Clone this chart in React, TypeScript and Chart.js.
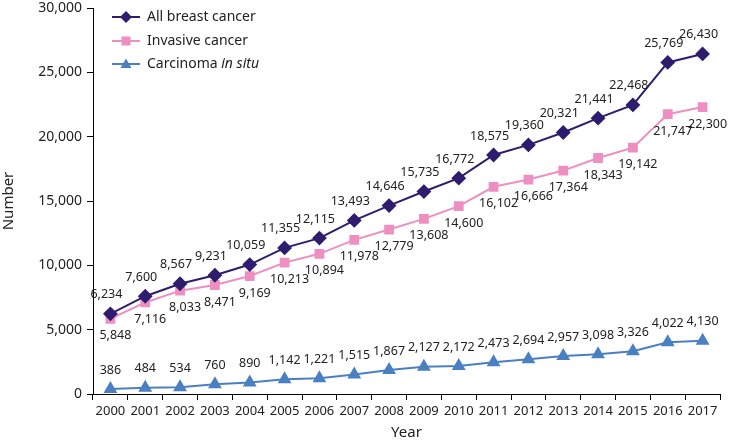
import React, { useEffect, useRef } from "react";
import { Chart, registerables } from "chart.js";

Chart.register(...registerables);

const years = ["2000","2001","2002","2003","2004","2005","2006","2007","2008","2009","2010","2011","2012","2013","2014","2015","2016","2017"];
const allBreast = [6234,7600,8567,9231,10059,11355,12115,13493,14646,15735,16772,18575,19360,20321,21441,22468,25769,26430];
const invasive = [5848,7116,8033,8471,9169,10213,10894,11978,12779,13608,14600,16102,16666,17364,18343,19142,21747,22300];
const inSitu = [386,484,534,760,890,1142,1221,1515,1867,2127,2172,2473,2694,2957,3098,3326,4022,4130];

const seriesNames = ["All breast cancer", "Invasive cancer", "Carcinoma "];
const colors = ["#2f1c6e", "#ee8fc1", "#4a80c2"];
const FONT = '"Noto Sans", sans-serif';

const fmt = (v: number) => v.toLocaleString("en-US");

const labelPlugin = {
  id: "valueLabels",
  afterDatasetsDraw(chart: any) {
    const ctx = chart.ctx;
    const offsets = [
      [-4, -19],
      [5, 17],
      [0, -19],
    ];
    ctx.save();
    ctx.font = `12.5px ${FONT}`;
    ctx.fillStyle = "#222";
    ctx.textAlign = "center";
    ctx.textBaseline = "middle";
    chart.data.datasets.forEach((ds: any, i: number) => {
      const meta = chart.getDatasetMeta(i);
      meta.data.forEach((pt: any, j: number) => {
        const [dx, dy] = offsets[i];
        ctx.fillText(fmt(ds.data[j]), pt.x + dx, pt.y + dy);
      });
    });
    ctx.restore();
  },
};

const legendPlugin = {
  id: "customLegend",
  afterDraw(chart: any) {
    const ctx = chart.ctx;
    const x0 = 112;
    const rows = [17, 41, 64];
    ctx.save();
    rows.forEach((y, i) => {
      ctx.strokeStyle = colors[i];
      ctx.fillStyle = colors[i];
      ctx.lineWidth = 2;
      ctx.beginPath();
      ctx.moveTo(x0, y);
      ctx.lineTo(x0 + 28, y);
      ctx.stroke();
      const cx = x0 + 14;
      ctx.beginPath();
      if (i === 0) {
        ctx.moveTo(cx, y - 6);
        ctx.lineTo(cx + 6, y);
        ctx.lineTo(cx, y + 6);
        ctx.lineTo(cx - 6, y);
        ctx.closePath();
      } else if (i === 1) {
        ctx.rect(cx - 4.5, y - 4.5, 9, 9);
      } else {
        ctx.moveTo(cx, y - 5.5);
        ctx.lineTo(cx + 5.5, y + 4);
        ctx.lineTo(cx - 5.5, y + 4);
        ctx.closePath();
      }
      ctx.fill();
      ctx.fillStyle = "#222";
      ctx.textAlign = "left";
      ctx.textBaseline = "middle";
      ctx.font = `14px ${FONT}`;
      ctx.fillText(seriesNames[i], x0 + 35, y);
      if (i === 2) {
        const w = ctx.measureText(seriesNames[i]).width;
        ctx.font = `italic 14px ${FONT}`;
        ctx.fillText("in situ", x0 + 35 + w, y);
      }
    });
    ctx.restore();
  },
};

export default function App() {
  const ref = useRef<HTMLCanvasElement>(null);
  useEffect(() => {
    document.body.style.margin = "0";
    const chart = new Chart(ref.current as HTMLCanvasElement, {
      type: "line",
      data: {
        labels: years,
        datasets: [
          {
            label: "All breast cancer",
            data: allBreast,
            borderColor: colors[0],
            backgroundColor: colors[0],
            borderWidth: 2,
            pointStyle: "rectRot",
            pointRadius: 6,
            tension: 0,
          },
          {
            label: "Invasive cancer",
            data: invasive,
            borderColor: colors[1],
            backgroundColor: colors[1],
            borderWidth: 2,
            pointStyle: "rect",
            pointRadius: 5.5,
            tension: 0,
          },
          {
            label: "Carcinoma in situ",
            data: inSitu,
            borderColor: colors[2],
            backgroundColor: colors[2],
            borderWidth: 2,
            pointStyle: "triangle",
            pointRadius: 6,
            tension: 0,
          },
        ],
      },
      options: {
        responsive: false,
        animation: false,
        layout: { padding: { top: 8, right: 18, left: 0, bottom: 0 } },
        plugins: { legend: { display: false }, tooltip: { enabled: false } },
        scales: {
          x: {
            type: "category",
            offset: true,
            grid: { display: true, drawOnChartArea: false, drawTicks: true, tickLength: 6, color: "#000", offset: true },
            border: { display: true, color: "#000", width: 1 },
            ticks: { color: "#222", font: { family: FONT, size: 13 }, padding: 3, maxRotation: 0, autoSkip: false },
            title: { display: true, text: "Year", color: "#222", font: { family: FONT, size: 15 }, padding: { top: 4, bottom: 0 } },
            afterFit: (s: any) => { s.height = 48; s.paddingLeft = 0; s.paddingRight = 0; },
          },
          y: {
            min: 0,
            max: 30000,
            grid: { display: true, drawOnChartArea: false, drawTicks: true, tickLength: 6, color: "#000" },
            border: { display: true, color: "#000", width: 1 },
            ticks: { stepSize: 5000, color: "#222", font: { family: FONT, size: 14 }, padding: 5, callback: (v: any) => fmt(Number(v)) },
            title: { display: true, text: "Number", color: "#222", font: { family: FONT, size: 15 }, padding: { top: 0, bottom: 0 } },
            afterFit: (s: any) => { s.width = 93; s.paddingTop = 0; s.paddingBottom = 0; },
          },
        },
      },
      plugins: [labelPlugin, legendPlugin],
    });
    return () => chart.destroy();
  }, []);
  return <canvas ref={ref} width={738} height={442} style={{ display: "block" }} />;
}
